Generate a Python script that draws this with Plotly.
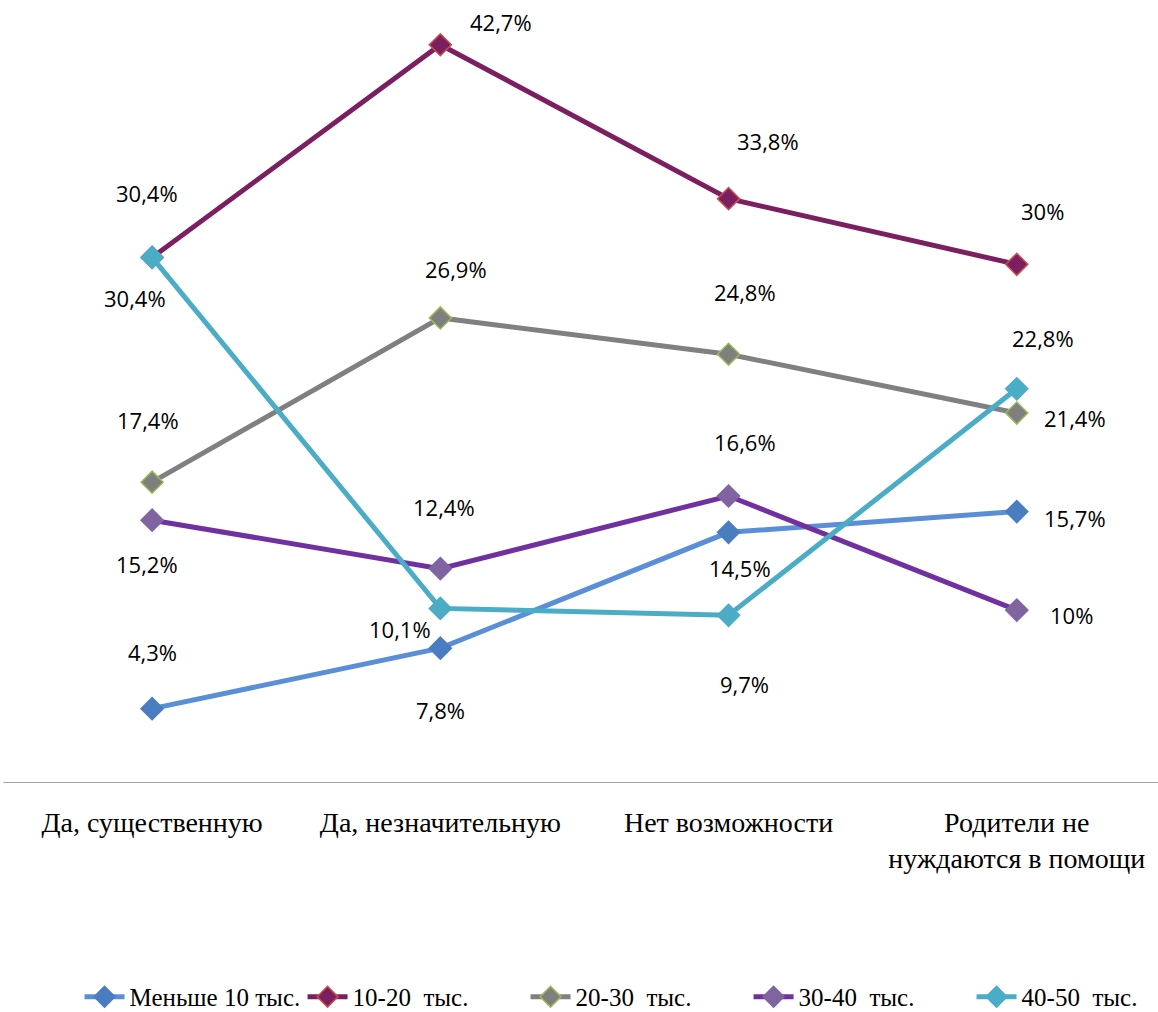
import plotly.graph_objects as go

# Categories (answers) and income groups
categories = ["Да, существенную", "Да, незначительную", "Нет возможности",
              "Родители не<br>нуждаются в помощи"]

series_names = ["Меньше 10 тыс.", "10-20  тыс.", "20-30  тыс.", "30-40  тыс.", "40-50  тыс."]

less_10 = [4.3, 7.8, 14.5, 15.7]
from_10_20 = [30.4, 42.7, 33.8, 30.0]
from_20_30 = [17.4, 26.9, 24.8, 21.4]
from_30_40 = [15.2, 12.4, 16.6, 10.0]
from_40_50 = [30.4, 10.1, 9.7, 22.8]

series_values = [less_10, from_10_20, from_20_30, from_30_40, from_40_50]

SERIF = "Liberation Serif"

# Styling per series: line colour, marker fill, marker outline
styles = [
    dict(line="#5A8FD8", fill="#4A7DBF", edge="#4A7DBF"),
    dict(line="#7B1F60", fill="#7B1F60", edge="#C8504D"),
    dict(line="#808080", fill="#7F7F7F", edge="#9BBB59"),
    dict(line="#7030A0", fill="#8064A2", edge="#8064A2"),
    dict(line="#4BACC6", fill="#4BACC6", edge="#4BACC6"),
]

# Data label placement (pixel offsets from each point, xanchor)
label_offsets = [
    [(0, 57, "center"), (0, -62, "center"), (11, -36, "center"), (25, -6, "left")],
    [(-5, 64, "center"), (61, 23, "center"), (39, 58, "center"), (26, 53, "center")],
    [(-4, 62, "center"), (16, 49, "center"), (16, 62, "center"), (25, -5, "left")],
    [(-5, -44, "center"), (4, 62, "center"), (16, 54, "center"), (31, -5, "left")],
    [(-17, -41, "center"), (-40, -21, "center"), (16, -69, "center"), (26, 51, "center")],
]

x_idx = list(range(len(categories)))

fig = go.Figure()
annotations = []

for name, vals, st, offs in zip(series_names, series_values, styles, label_offsets):
    fig.add_trace(go.Scatter(
        x=x_idx, y=vals, name=name, mode="lines+markers",
        line=dict(color=st["line"], width=5),
        marker=dict(symbol="diamond", size=17, color=st["fill"],
                    line=dict(color=st["edge"], width=1.5)),
        hoverinfo="skip",
    ))
    for xi, v, (dx, dy, anchor) in zip(x_idx, vals, offs):
        txt = (f"{v:.1f}".rstrip("0").rstrip(".")).replace(".", ",") + "%"
        annotations.append(dict(
            x=xi, y=v, xref="x", yref="y", text=txt, showarrow=False,
            xshift=dx, yshift=dy, xanchor=anchor, yanchor="middle",
            font=dict(family="Open Sans", size=22, color="#000000"),
        ))

fig.update_layout(
    template="none",
    width=1158, height=1012,
    margin=dict(l=8, r=0, t=5, b=229, autoexpand=False),
    paper_bgcolor="white", plot_bgcolor="white",
    font=dict(family=SERIF, color="#000000"),
    showlegend=True,
    legend=dict(
        orientation="h", x=0.547, xanchor="center", y=-0.275, yanchor="middle",
        font=dict(family=SERIF, size=25, color="#000000"),
        itemwidth=40, entrywidth=168, entrywidthmode="pixels",
        traceorder="normal", bgcolor="rgba(0,0,0,0)",
    ),
    annotations=annotations,
    xaxis=dict(
        range=[-0.5, 3.49], tickmode="array", tickvals=x_idx, ticktext=categories,
        showgrid=False, zeroline=False, showline=False, ticks="",
        ticklabelstandoff=20, automargin=False,
        tickfont=dict(family=SERIF, size=28, color="#000000"),
        fixedrange=True,
    ),
    yaxis=dict(
        range=[0, 45], visible=False, showgrid=False, zeroline=False,
        automargin=False, fixedrange=True,
    ),
    shapes=[dict(type="line", xref="paper", yref="y", x0=-0.004, x1=1.0, y0=0, y1=0,
                 line=dict(color="#A0A0A0", width=2), layer="below")],
)

fig.write_html("out.html")
